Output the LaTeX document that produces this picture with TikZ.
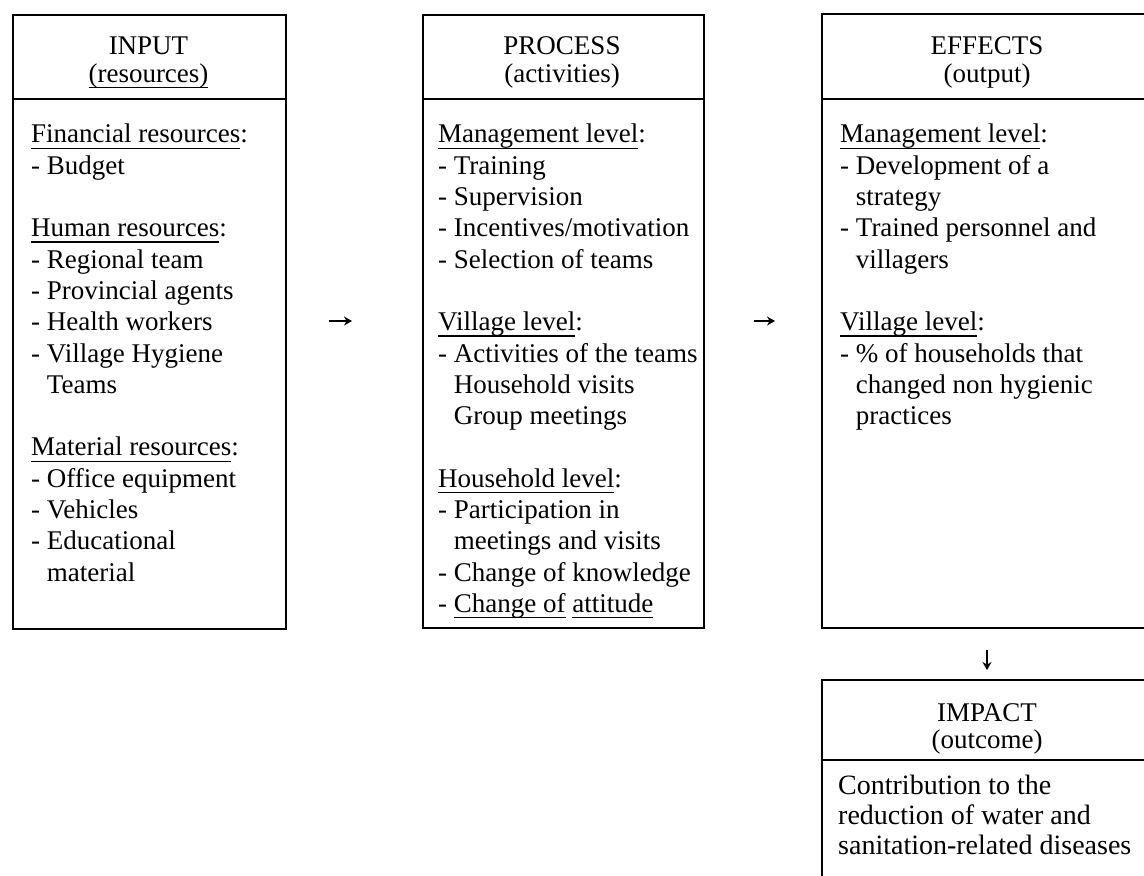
\documentclass[tikz,border=0pt]{standalone}
\usepackage{fontspec}
\setmainfont{Liberation Serif}
\usetikzlibrary{arrows.meta}
\newsavebox\ulbox
\newcommand\ulx[1]{\sbox\ulbox{#1}\rlap{\rule[-6pt]{\wd\ulbox}{1.4pt}}\usebox\ulbox}
\newcommand\ind{\phantom{- }}
\begin{document}
\begin{tikzpicture}[x=1pt,y=-1pt,
  boxline/.style={line width=1.5pt, line join=miter},
  hdr/.style={anchor=base, inner sep=0pt, font=\fontsize{27}{28}\selectfont},
  bodytext/.style={anchor=north west, inner sep=0pt, align=left, font=\fontsize{27}{31.3}\selectfont},
  flowarrow/.style={line width=1.8pt, -{Stealth[length=8pt,width=9pt]}}
]
\useasboundingbox (0,0) rectangle (1144,876);
% boxes
\node[draw, boxline, anchor=north west, inner sep=0pt, minimum width=273pt, minimum height=614pt] (inbox) at (12,14) {};
\node[draw, boxline, anchor=north west, inner sep=0pt, minimum width=281pt, minimum height=613pt] (procbox) at (422,14) {};
\draw[boxline] (inbox.west |- 0,99) -- (inbox.east |- 0,99);
\draw[boxline] (procbox.west |- 0,99) -- (procbox.east |- 0,99);
\coordinate (efftr) at (1144,14);
\coordinate (effbl) at (822,628);
\coordinate (effbr) at (1144,628);
\draw[boxline] (efftr) -| (effbl) -- (effbr);
\draw[boxline] (822,99) -- (1144,99);
\coordinate (imptr) at (1144,680);
\coordinate (impbl) at (822,876);
\draw[boxline] (imptr) -| (impbl);
\draw[boxline] (822,760) -- (1144,760);
% headers
\node[hdr] (inh1) at (148.5,54) {INPUT};
\node[hdr] (inh2) at (148.5,82) {\ulx{(resources)}};
\node[hdr] (prh1) at (562,54) {PROCESS};
\node[hdr] (prh2) at (562,82) {(activities)};
\node[hdr] (efh1) at (987,54) {EFFECTS};
\node[hdr] (efh2) at (987,82) {(output)};
\node[hdr] (imh1) at (987,721) {IMPACT};
\node[hdr] (imh2) at (987,748) {(outcome)};
% bodies
\node[bodytext] (inbody) at (31,124) {%
\ulx{Financial resources}:\\
- Budget\\[31.3pt]
\ulx{Human resources}:\\
- Regional team\\
- Provincial agents\\
- Health workers\\
- Village Hygiene\\
\ind Teams\\[31.3pt]
\ulx{Material resources}:\\
- Office equipment\\
- Vehicles\\
- Educational\\
\ind material};
\node[bodytext] (prbody) at (438,124) {%
\ulx{Management level}:\\
- Training\\
- Supervision\\
- Incentives/motivation\\
- Selection of teams\\[31.3pt]
\ulx{Village level}:\\
- Activities of the teams\\
\ind Household visits\\
\ind Group meetings\\[31.3pt]
\ulx{Household level}:\\
- Participation in\\
\ind meetings and visits\\
- Change of knowledge\\
- \ulx{Change of}\ \ulx{attitude}};
\node[bodytext] (efbody) at (840,124) {%
\ulx{Management level}:\\
- Development of a\\
\ind strategy\\
- Trained personnel and\\
\ind villagers\\[31.3pt]
\ulx{Village level}:\\
- \% of households that\\
\ind changed non hygienic\\
\ind practices};
\node[bodytext, font=\fontsize{28}{30}\selectfont] (imbody) at (838,775) {%
Contribution to the\\
reduction of water and\\
sanitation-related diseases};
% arrows
\coordinate (a1s) at (329,321);
\coordinate (a1e) at (352,321);
\coordinate (a2s) at (754,321);
\coordinate (a2e) at (775,321);
\coordinate (a3s) at (987,650);
\coordinate (a3e) at (987,670);
\draw[flowarrow] (a1s) -- (a1e);
\draw[flowarrow] (a2s) -- (a2e);
\draw[flowarrow] (a3s) -- (a3e);
\end{tikzpicture}
\end{document}
